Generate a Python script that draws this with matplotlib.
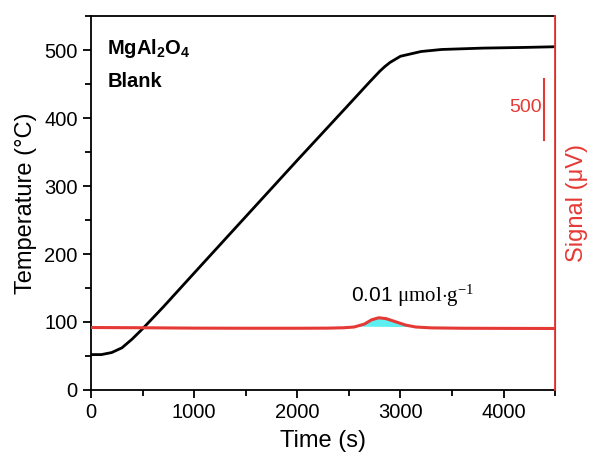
import matplotlib.pyplot as plt
from matplotlib.ticker import MultipleLocator
import numpy as np

plt.rcParams['font.family'] = ['Liberation Sans', 'DejaVu Sans']
plt.rcParams['mathtext.fontset'] = 'custom'
plt.rcParams['mathtext.rm'] = 'Liberation Serif'
plt.rcParams['mathtext.it'] = 'Liberation Serif:italic'

# DATA
# temperature program
t_temp = [0, 100, 200, 300, 400, 500, 600, 700, 1000, 1500, 2000, 2500, 2700,
          2800, 2850, 2900, 3000, 3200, 3400, 3800, 4200, 4500]
temp = [52, 52, 55, 62, 75, 90, 106, 122, 172, 255, 338, 420, 453,
        469, 476, 482, 491, 498, 501, 503, 504, 505]

# TCD signal in uV (relative)
t_sig = [0, 500, 1000, 1500, 2000, 2300, 2450, 2550, 2650, 2720, 2790,
         2860, 2950, 3050, 3150, 3300, 3600, 4000, 4500]
sig = [512, 510, 507, 506, 506, 507, 510, 516, 540, 575, 592,
       585, 560, 532, 516, 509, 506, 505, 504]
peak_lo, peak_hi = 2580, 3130
scale_bar = 500  # uV

red = '#e53935'

fig = plt.figure(figsize=(5.95, 4.62), dpi=100)
ax = fig.add_axes([0.153, 0.156, 0.780, 0.809])
ax2 = ax.twinx()

ax.plot(t_temp, temp, color='black', lw=2)
ax.set_xlim(0, 4500)
ax.set_ylim(0, 550)
ax.xaxis.set_major_locator(MultipleLocator(1000))
ax.xaxis.set_minor_locator(MultipleLocator(500))
ax.yaxis.set_major_locator(MultipleLocator(100))
ax.yaxis.set_minor_locator(MultipleLocator(50))
ax.tick_params(which='major', direction='out', length=6, width=1.3, labelsize=14.5)
ax.tick_params(which='minor', direction='out', length=4, width=1.3)
ax.tick_params(top=False, right=False)
for s in ['left', 'bottom', 'top']:
    ax.spines[s].set_linewidth(1.3)
ax.set_xlabel('Time (s)', fontsize=17, labelpad=6)
ax.set_ylabel('Temperature (°C)', fontsize=17, labelpad=5)

ax.text(0.035, 0.945, r'MgAl$_\mathregular{2}$O$_\mathregular{4}$', transform=ax.transAxes,
        fontsize=14.5, fontweight='bold', va='top')
ax.text(0.035, 0.85, 'Blank', transform=ax.transAxes,
        fontsize=14.5, fontweight='bold', va='top')

# signal on the right axis
ts = np.linspace(0, 4500, 900)
ss = np.interp(ts, t_sig, sig)
base = np.interp(ts, [peak_lo, peak_hi], [np.interp(peak_lo, t_sig, sig), np.interp(peak_hi, t_sig, sig)])
mask = (ts >= peak_lo) & (ts <= peak_hi)
ax2.fill_between(ts, base, ss, where=mask, color='#5ef0f0', lw=0)
ax2.plot(t_sig, sig, color=red, lw=2.2)
ax2.set_ylim(0, 3066)
ax2.set_yticks([])
ax2.spines['right'].set_color(red)
ax2.spines['right'].set_linewidth(1.3)
for s in ['left', 'bottom', 'top']:
    ax2.spines[s].set_visible(False)
ax2.set_ylabel('Signal (μV)', color=red, fontsize=17, labelpad=8)

# scale bar
ax2.plot([4390, 4390], [2050, 2050 + scale_bar], color=red, lw=1.5)
ax2.text(4370, 2320, str(scale_bar), color=red, fontsize=14, ha='right', va='center')

ax2.text(3115, 771, r'0.01 $\mathrm{μmol{\cdot}g^{-1}}$', fontsize=15, ha='center', va='center')

fig.savefig('out.png', dpi=100)
